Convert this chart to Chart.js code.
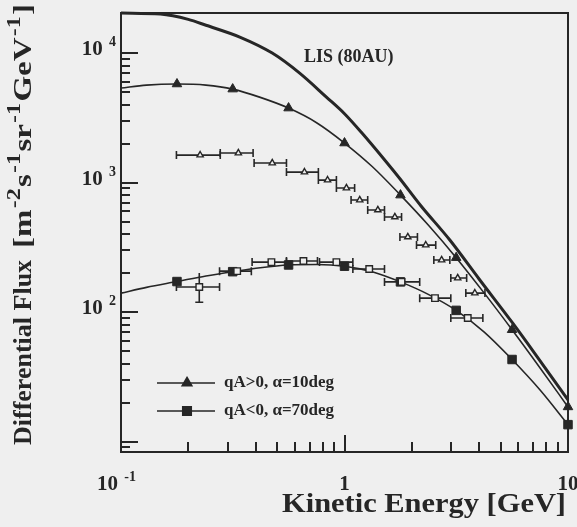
<!DOCTYPE html>
<html>
<head>
<meta charset="utf-8">
<title>Differential Flux vs Kinetic Energy</title>
<script src="https://cdn.jsdelivr.net/npm/chart.js@4.4.0/dist/chart.umd.min.js"></script>
<style>
  html, body { margin: 0; padding: 0; background: #efefef; }
  #wrap { width: 577px; height: 527px; }
</style>
</head>
<body>
<div id="wrap"><canvas id="fluxChart" width="577" height="527"></canvas></div>
<script>
// ---- data (E in GeV, flux in m^-2 s^-1 sr^-1 GeV^-1) ----

// local interstellar spectrum at 80 AU
const lisEnergy = [0.1, 0.15, 0.2, 0.24, 0.34, 0.475, 0.63, 0.83, 1.0, 1.2, 1.5, 1.77, 2.2, 2.96, 4.0, 5.66, 7.5, 10];
const lisFlux   = [20400, 20000, 18200, 16400, 13300, 10000, 7000, 4570, 3400, 2400, 1520, 1070, 660, 360, 180, 82, 42, 21];

// modulated model curves, shared energy grid
const curveEnergy = [0.1, 0.13, 0.178, 0.24, 0.316, 0.42, 0.562, 0.75, 1.0, 1.33, 1.78, 2.37, 3.16, 4.22, 5.62, 7.5, 10];
const posFlux = [5370, 5660, 5770, 5660, 5270, 4550, 3760, 2900, 2020, 1330, 800, 470, 263, 140, 73, 37, 18.5];   // qA>0, alpha=10deg
const negFlux = [140, 155, 172, 190, 205, 220, 231, 233, 226, 205, 171, 137, 103, 70, 43, 25, 13.5];            // qA<0, alpha=70deg
const markIndex = [2, 4, 6, 8, 10, 12, 14, 16];

// measured points, upper set (open triangles)
const hiEnergy = [0.226, 0.335, 0.475, 0.662, 0.84, 1.02, 1.17, 1.41, 1.68, 1.92, 2.31, 2.72, 3.21, 3.83];
const hiELow   = [0.177, 0.278, 0.394, 0.55, 0.764, 0.92, 1.07, 1.27, 1.51, 1.77, 2.10, 2.51, 2.99, 3.49];
const hiEHigh  = [0.278, 0.39, 0.55, 0.764, 0.92, 1.11, 1.27, 1.51, 1.80, 2.12, 2.56, 2.96, 3.52, 4.25];
const hiFlux   = [1630, 1690, 1415, 1205, 1045, 907, 733, 614, 542, 380, 329, 252, 183, 140];

// measured points, lower set (open squares)
const loEnergy = [0.224, 0.331, 0.471, 0.655, 0.92, 1.29, 1.80, 2.54, 3.56];
const loELow   = [0.177, 0.276, 0.386, 0.55, 0.773, 1.09, 1.51, 2.17, 2.99];
const loEHigh  = [0.276, 0.383, 0.55, 0.757, 1.09, 1.51, 2.17, 2.99, 4.16];
const loFlux   = [156, 207, 243, 248, 243, 215, 171, 128, 90];
const loFLow   = [119, null, null, null, null, null, null, null, null];
const loFHigh  = [200, null, null, null, null, null, null, null, null];

// axis labels and tick positions
const xTickValues = [0.1, 1, 10];
const xTickBase   = ['10', '1', '10'];
const xTickExp    = ['-1', '', ''];
const yTickValues = [100, 1000, 10000];
const yTickExp    = ['2', '3', '4'];
const xMinorTicks = [0.2, 0.3, 0.4, 0.5, 0.6, 0.7, 0.8, 0.9, 2, 3, 4, 5, 6, 7, 8, 9];
const xMajorTicks = [1];
const yMinorTicks = [9, 20, 30, 40, 50, 60, 70, 80, 90, 200, 300, 400, 500, 600, 700, 800, 900,
                     2000, 3000, 4000, 5000, 6000, 7000, 8000, 9000];
const yMajorTicks = [10, 100, 1000, 10000];

const INK = '#262626';
const PAPER = '#efefef';
const SERIF = '"Liberation Serif", "Times New Roman", serif';

const pts = (xs, ys) => xs.map((x, i) => ({ x: x, y: ys[i] }));

// text with raised exponent parts: [[text, isSup], ...]
function richWidth(ctx, parts, size, supScale) {
    let w = 0;
    parts.forEach(([t, sup]) => {
        ctx.font = `bold ${sup ? Math.round(size * supScale) : size}px ${SERIF}`;
        w += ctx.measureText(t).width + (sup ? 2 : 0);
    });
    return w;
}
function drawRich(ctx, parts, x, y, size, supScale) {
    let cx = x;
    ctx.textAlign = 'left';
    ctx.textBaseline = 'alphabetic';
    parts.forEach(([t, sup]) => {
        ctx.font = `bold ${sup ? Math.round(size * supScale) : size}px ${SERIF}`;
        ctx.fillText(t, cx + (sup ? 1 : 0), sup ? y - size * 0.42 : y);
        cx += ctx.measureText(t).width + (sup ? 2 : 0);
    });
}
// draw rich text squeezed/stretched along its baseline to a given length
function drawRichFit(ctx, parts, x, y, size, supScale, length) {
    const w = richWidth(ctx, parts, size, supScale);
    ctx.save();
    ctx.translate(x, y);
    ctx.scale(length / w, 1);
    drawRich(ctx, parts, 0, 0, size, supScale);
    ctx.restore();
}

// horizontal / vertical error bars under the markers
const errorBars = {
    id: 'errorBars',
    beforeDatasetsDraw(chart) {
        const { ctx, scales: { x, y } } = chart;
        ctx.save();
        ctx.strokeStyle = INK;
        ctx.lineWidth = 1.6;
        chart.data.datasets.forEach(ds => {
            if (!ds.xLow) return;
            ds.data.forEach((p, i) => {
                const py = y.getPixelForValue(p.y);
                const x0 = x.getPixelForValue(ds.xLow[i]);
                const x1 = x.getPixelForValue(ds.xHigh[i]);
                ctx.beginPath();
                ctx.moveTo(x0, py); ctx.lineTo(x1, py);
                ctx.moveTo(x0, py - 4); ctx.lineTo(x0, py + 4);
                ctx.moveTo(x1, py - 4); ctx.lineTo(x1, py + 4);
                if (ds.yLow && ds.yLow[i] != null) {
                    const px = x.getPixelForValue(p.x);
                    const y0 = y.getPixelForValue(ds.yLow[i]);
                    const y1 = y.getPixelForValue(ds.yHigh[i]);
                    ctx.moveTo(px, y0); ctx.lineTo(px, y1);
                    ctx.moveTo(px - 4, y0); ctx.lineTo(px + 4, y0);
                }
                ctx.stroke();
            });
        });
        ctx.restore();
    }
};

// frame, inward ticks, tick labels, titles, legend and annotation
const decorations = {
    id: 'decorations',
    afterDraw(chart) {
        const { ctx, chartArea: a, scales: { x, y } } = chart;
        ctx.save();
        ctx.strokeStyle = INK;
        ctx.fillStyle = INK;

        ctx.lineWidth = 2;
        ctx.strokeRect(a.left, a.top, a.right - a.left, a.bottom - a.top);

        // inward ticks
        xMinorTicks.forEach(v => {
            const px = Math.round(x.getPixelForValue(v));
            ctx.fillRect(px - 1, a.bottom - 10, 2, 10);
        });
        xMajorTicks.forEach(v => {
            const px = Math.round(x.getPixelForValue(v));
            ctx.fillRect(px - 1, a.bottom - 17, 2, 17);
        });
        yMinorTicks.forEach(v => {
            const py = Math.round(y.getPixelForValue(v));
            ctx.fillRect(a.left, py - 1, 9, 2);
        });
        yMajorTicks.forEach(v => {
            const py = Math.round(y.getPixelForValue(v));
            ctx.fillRect(a.left, py - 1, 17, 2);
        });

        // y tick labels
        yTickValues.forEach((v, i) => {
            const parts = [['10', false], [' ', false], [yTickExp[i], true]];
            const w = richWidth(ctx, parts, 21, 0.66);
            drawRich(ctx, parts, 117 - w, y.getPixelForValue(v) + 2, 21, 0.66);
        });
        // x tick labels
        xTickValues.forEach((v, i) => {
            const parts = xTickExp[i] ? [[xTickBase[i], false], [' ', false], [xTickExp[i], true]] : [[xTickBase[i], false]];
            const w = richWidth(ctx, parts, 21, 0.66);
            drawRich(ctx, parts, x.getPixelForValue(v) - w / 2 - (xTickExp[i] ? 4 : 0), 490, 21, 0.66);
        });

        // axis titles
        drawRichFit(ctx, [['Kinetic Energy [GeV]', false]], 282, 512, 27, 0.66, 284);

        ctx.save();
        ctx.translate(31, 445);
        ctx.rotate(-Math.PI / 2);
        drawRich(ctx, [['Differential Flux ', false]], 0, 0, 26, 0.66);
        drawRichFit(ctx, [['[m', false], ['-2', true], ['s', false], ['-1', true],
                          ['sr', false], ['-1', true], ['GeV', false], ['-1', true], [']', false]],
                    197, 0, 26, 0.72, 244);
        ctx.restore();

        // annotation
        ctx.font = `bold 18px ${SERIF}`;
        ctx.textAlign = 'left';
        ctx.textBaseline = 'alphabetic';
        ctx.fillText('LIS (80AU)', 304, 62);

        // legend
        const rows = [
            { y: 383, style: 'triangle', r: 5.5, label: 'qA>0, \u03b1=10deg' },
            { y: 411, style: 'rect', r: 6, label: 'qA<0, \u03b1=70deg' }
        ];
        rows.forEach(row => {
            ctx.lineWidth = 1.6;
            ctx.beginPath();
            ctx.moveTo(157, row.y); ctx.lineTo(215, row.y);
            ctx.stroke();
            Chart.helpers.drawPoint(ctx, { pointStyle: row.style, radius: row.r, rotation: 0, borderWidth: 1 }, 187, row.y);
            ctx.font = `bold 17px ${SERIF}`;
            ctx.textAlign = 'left';
            ctx.textBaseline = 'middle';
            ctx.fillText(row.label, 224, row.y);
        });
        ctx.restore();
    }
};

const markerRadius = (r) => (c) => markIndex.includes(c.dataIndex) ? r : 0;

new Chart(document.getElementById('fluxChart'), {
    type: 'scatter',
    data: {
        datasets: [
            {
                label: 'data (upper)',
                data: pts(hiEnergy, hiFlux),
                xLow: hiELow, xHigh: hiEHigh,
                pointStyle: 'triangle', pointRadius: 3.6,
                backgroundColor: PAPER, borderColor: INK, borderWidth: 1.4,
                showLine: false
            },
            {
                label: 'data (lower)',
                data: pts(loEnergy, loFlux),
                xLow: loELow, xHigh: loEHigh, yLow: loFLow, yHigh: loFHigh,
                pointStyle: 'rect', pointRadius: 4.6,
                backgroundColor: PAPER, borderColor: INK, borderWidth: 1.4,
                showLine: false
            },
            {
                label: 'qA>0, \u03b1=10deg',
                data: pts(curveEnergy, posFlux),
                showLine: true, borderColor: INK, borderWidth: 1.6,
                backgroundColor: INK, pointStyle: 'triangle',
                pointRadius: markerRadius(5.5), pointBorderWidth: 1,
                cubicInterpolationMode: 'monotone', clip: false
            },
            {
                label: 'qA<0, \u03b1=70deg',
                data: pts(curveEnergy, negFlux),
                showLine: true, borderColor: INK, borderWidth: 1.6,
                backgroundColor: INK, pointStyle: 'rect',
                pointRadius: markerRadius(6), pointBorderWidth: 1,
                cubicInterpolationMode: 'monotone', clip: false
            },
            {
                label: 'LIS (80AU)',
                data: pts(lisEnergy, lisFlux),
                showLine: true, borderColor: INK, borderWidth: 3,
                pointRadius: 0,
                cubicInterpolationMode: 'monotone', clip: false
            }
        ]
    },
    options: {
        responsive: false,
        animation: false,
        layout: { padding: { left: 121, right: 9, top: 13, bottom: 75 } },
        plugins: {
            legend: { display: false },
            tooltip: { enabled: false }
        },
        scales: {
            x: { type: 'logarithmic', min: 0.1, max: 10, display: false },
            y: { type: 'logarithmic', min: 8.3, max: 20400, display: false }
        }
    },
    plugins: [errorBars, decorations]
});
</script>
</body>
</html>
